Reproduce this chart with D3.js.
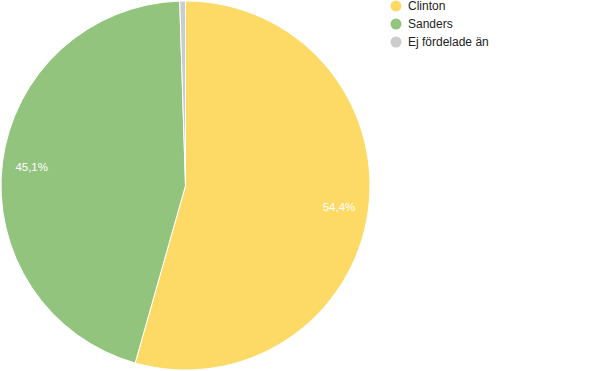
<!DOCTYPE html>
<html><head><meta charset="utf-8">
<script src="https://cdn.jsdelivr.net/npm/d3@7"></script>
<style>body{margin:0;background:#fff}svg{display:block}text{font-family:"Liberation Sans",Arial,sans-serif}</style>
</head><body>
<svg id="c" width="600" height="371"></svg>
<script>
const categories = ["Clinton", "Sanders", "Ej fördelade än"];
const values = [54.4, 45.1, 0.5];
const labels = ["54,4%", "45,1%", ""];
const colors = ["#FDD966", "#93C47D", "#CCCCCC"];

const svg = d3.select("#c");
const cx = 185.5, cy = 185.5, r = 184.5;
const data = categories.map((c, i) => ({name: c, value: values[i], label: labels[i], color: colors[i]}));
const pie = d3.pie().value(d => d.value).sort(null);
const arcs = pie(data);
const arc = d3.arc().innerRadius(0).outerRadius(r);
const labelArc = d3.arc().innerRadius(r * 0.84).outerRadius(r * 0.84);
const g = svg.append("g").attr("transform", `translate(${cx},${cy})`);
g.selectAll("path").data(arcs).join("path")
  .attr("d", arc).attr("fill", d => d.data.color)
  .attr("stroke", "#fff").attr("stroke-width", 1);
g.selectAll("text").data(arcs).join("text")
  .attr("transform", d => `translate(${labelArc.centroid(d)})`)
  .attr("text-anchor", "middle").attr("dy", "0.35em")
  .attr("fill", "#fff").attr("font-size", 11.5)
  .text(d => d.data.label);

const lg = svg.append("g").attr("transform", "translate(396,6)");
const items = lg.selectAll("g").data(data).join("g").attr("transform", (d, i) => `translate(0,${i * 18})`);
items.append("circle").attr("r", 5.5).attr("fill", d => d.color);
items.append("text").attr("x", 12).attr("dy", "0.35em").attr("font-size", 12).attr("fill", "#222").text(d => d.name);
</script>
</body></html>
